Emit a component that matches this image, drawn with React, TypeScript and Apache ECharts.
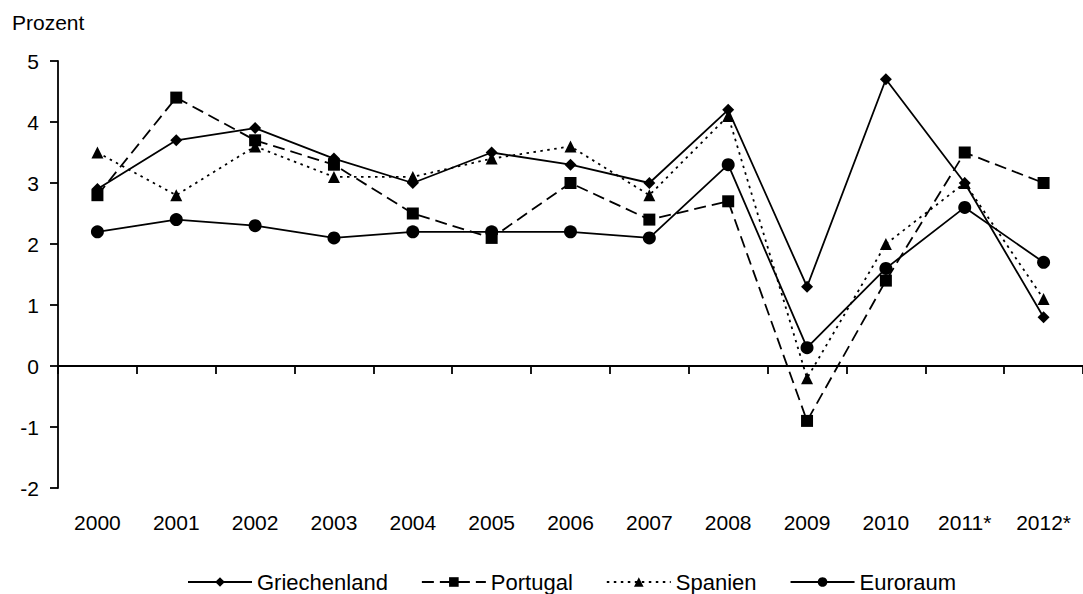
import React, { useEffect, useRef } from "react";
import * as echarts from "echarts";

const categories = ["2000", "2001", "2002", "2003", "2004", "2005", "2006", "2007", "2008", "2009", "2010", "2011*", "2012*"];
const griechenland = [2.9, 3.7, 3.9, 3.4, 3.0, 3.5, 3.3, 3.0, 4.2, 1.3, 4.7, 3.0, 0.8];
const portugal = [2.8, 4.4, 3.7, 3.3, 2.5, 2.1, 3.0, 2.4, 2.7, -0.9, 1.4, 3.5, 3.0];
const spanien = [3.5, 2.8, 3.6, 3.1, 3.1, 3.4, 3.6, 2.8, 4.1, -0.2, 2.0, 3.0, 1.1];
const euroraum = [2.2, 2.4, 2.3, 2.1, 2.2, 2.2, 2.2, 2.1, 3.3, 0.3, 1.6, 2.6, 1.7];
const yMin = -2;
const yMax = 5;
const yStep = 1;

const FONT = "'Liberation Sans', Arial, sans-serif";

export default function App() {
  const ref = useRef<HTMLDivElement>(null);
  useEffect(() => {
    if (!ref.current) return;
    const chart = echarts.init(ref.current, null, { renderer: "svg" });
    const mk = (name: string, data: number[], symbol: string, size: number, type: any) => ({
      name,
      type: "line",
      data,
      xAxisIndex: 0,
      symbol,
      symbolSize: size,
      showSymbol: true,
      itemStyle: { color: "#000" },
      lineStyle: { color: "#000", width: 1.8, type },
      emphasis: { disabled: true },
    });
    chart.setOption({
      animation: false,
      backgroundColor: "#fff",
      textStyle: { fontFamily: FONT },
      grid: { left: 58, right: -6, top: 61, bottom: 106, containLabel: false },
      graphic: [
        {
          type: "text",
          left: 12,
          top: 12,
          style: { text: "Prozent", font: `21px ${FONT}`, fill: "#000" },
        },
      ],
      legend: {
        left: 187,
        top: 571,
        padding: 0,
        itemWidth: 64,
        itemHeight: 12,
        itemGap: 33,
        textStyle: { fontSize: 22, color: "#000", fontFamily: FONT },
        data: ["Griechenland", "Portugal", "Spanien", "Euroraum"],
      },
      xAxis: [
        {
          type: "category",
          data: categories,
          position: "bottom",
          boundaryGap: true,
          axisLine: { onZero: true, lineStyle: { color: "#000", width: 1.8 } },
          axisTick: { show: true, length: 8, inside: false, lineStyle: { color: "#000", width: 1.8 } },
          axisLabel: { show: false },
          splitLine: { show: false },
        },
        {
          type: "category",
          data: categories,
          position: "bottom",
          boundaryGap: true,
          axisLine: { show: false, onZero: false },
          axisTick: { show: false },
          axisLabel: { show: true, color: "#000", fontSize: 21, fontFamily: FONT, margin: 24, interval: 0 },
          splitLine: { show: false },
        },
      ],
      yAxis: {
        type: "value",
        min: yMin,
        max: yMax,
        interval: yStep,
        axisLine: { show: true, onZero: false, lineStyle: { color: "#000", width: 1.8 } },
        axisTick: { show: true, length: 8, lineStyle: { color: "#000", width: 1.8 } },
        axisLabel: { color: "#000", fontSize: 21, fontFamily: FONT, margin: 19 },
        splitLine: { show: false },
      },
      series: [
        mk("Griechenland", griechenland, "diamond", 12, "solid"),
        mk("Portugal", portugal, "rect", 12, [12, 6]),
        mk("Spanien", spanien, "triangle", 12, [2.5, 4.5]),
        mk("Euroraum", euroraum, "circle", 13, "solid"),
      ],
    });
    return () => chart.dispose();
  }, []);
  return (
    <div
      ref={ref}
      style={{ position: "fixed", left: 0, top: 0, width: 1083, height: 594, background: "#fff" }}
    />
  );
}
